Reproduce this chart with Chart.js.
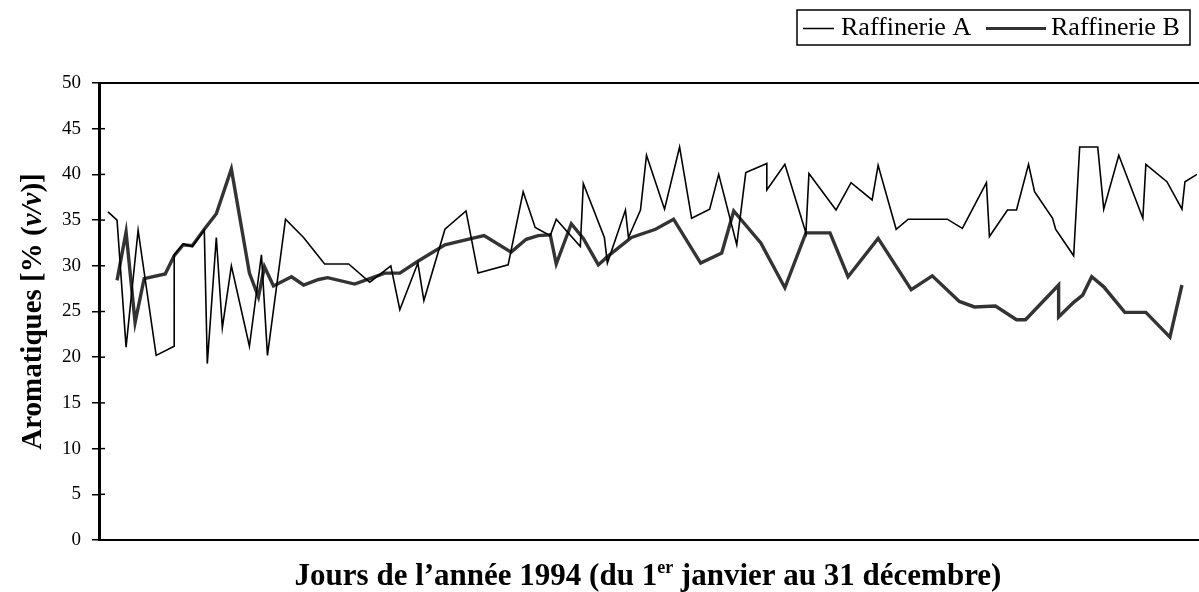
<!DOCTYPE html>
<html>
<head>
<meta charset="utf-8">
<script src="https://cdn.jsdelivr.net/npm/chart.js@4.4.1/dist/chart.umd.min.js"></script>
<style>
  html, body { margin: 0; padding: 0; background: #fff; }
  #wrap { width: 1199px; height: 592px; }
</style>
</head>
<body>
<div id="wrap"><canvas id="aroChart" width="1199" height="592"></canvas></div>
<script>
// jours de l'annee (1..365) et teneur en aromatiques [% v/v]
const joursA = [3,6,9,13,19,25,25,28,31,35,36,39,41,44,50,54,56,62,68,75,83,90,97,100,106,108,115,122,126,136,141,145,150,152,160,161,168,169,175,176,180,182,188,193,197,203,206,212,215,222,222,228,235,236,245,250,257,259,265,269,282,287,295,296,302,305,309,311,317,318,324,326,332,334,339,347,348,355,360,361,365];
const aromA = [35.9,35.0,21.1,33.9,20.2,21.2,31.2,32.4,32.1,33.9,19.3,33.1,23.2,30.0,21.2,31.2,20.2,35.1,33.1,30.2,30.2,28.2,30.0,25.2,30.3,26.2,34.0,36.0,29.2,30.1,38.1,34.2,33.3,35.1,32.1,39.0,33.1,30.3,36.1,33.1,36.1,42.1,36.2,43.0,35.2,36.2,40.0,32.3,40.2,41.2,38.3,41.1,33.6,40.1,36.1,39.1,37.2,41.0,34.0,35.1,35.1,34.1,39.1,33.2,36.1,36.1,41.1,38.1,35.2,34.0,31.1,43.0,43.0,36.2,42.1,35.2,41.1,39.2,36.2,39.2,40.0];

const joursB = [6,9,12,15,22,25,28,31,35,39,44,50,53,55,58,64,68,73,76,85,90,95,100,106,115,124,128,137,142,146,150,152,157,161,166,169,177,185,191,200,207,211,220,228,235,243,249,259,270,277,286,291,298,305,308,319,319,324,327,330,334,341,348,356,360];
const aromB = [28.4,33.7,23.8,28.6,29.1,31.1,32.3,32.2,34.0,35.7,40.6,29.2,26.6,29.9,27.8,28.8,27.9,28.5,28.7,28.0,28.6,29.2,29.2,30.5,32.3,33.0,33.3,31.5,32.9,33.3,33.4,30.2,34.6,33.0,30.1,31.0,33.1,34.0,35.1,30.3,31.4,36.0,32.5,27.6,33.6,33.6,28.8,33.0,27.4,28.9,26.1,25.5,25.6,24.1,24.1,27.9,24.4,26.0,26.8,28.8,27.7,24.9,24.9,22.2,27.9];

const labels = ["Raffinerie A", "Raffinerie B"];
const yMin = 0, yMax = 50, yPas = 5;

const SERIF = "'Liberation Serif', 'Times New Roman', serif";

// ecrit une suite de morceaux de texte (polices differentes) centree sur cx
function ecrireMorceaux(ctx, morceaux, cx, y) {
    let total = 0;
    morceaux.forEach(m => { ctx.font = m.font; total += ctx.measureText(m.t).width; });
    let x = cx - total / 2;
    morceaux.forEach(m => {
        ctx.font = m.font;
        ctx.fillText(m.t, x, y + (m.dy || 0));
        x += ctx.measureText(m.t).width;
    });
}

const decor = {
    id: 'decor',
    afterDraw(chart) {
        const ctx = chart.ctx;
        const a = chart.chartArea;
        const ys = chart.scales.y;
        ctx.save();
        ctx.strokeStyle = '#000';

        // cadre haut et bas
        ctx.lineWidth = 2;
        ctx.beginPath();
        ctx.moveTo(a.left, a.top); ctx.lineTo(a.right + 2, a.top);
        ctx.moveTo(a.left - 1, a.bottom); ctx.lineTo(a.right + 2, a.bottom);
        ctx.stroke();

        // petits traits a l'interieur
        ctx.lineWidth = 1.5;
        ys.ticks.forEach(t => {
            const y = ys.getPixelForValue(t.value);
            ctx.beginPath();
            ctx.moveTo(a.left, y); ctx.lineTo(a.left + 6, y);
            ctx.stroke();
        });

        // legende
        const lx = 797, ly = 10, lw = 393, lh = 35;
        ctx.lineWidth = 1.5;
        ctx.strokeRect(lx, ly, lw, lh);
        const my = ly + lh / 2 + 1;
        ctx.lineWidth = 1.5;
        ctx.beginPath(); ctx.moveTo(803, my); ctx.lineTo(834, my); ctx.stroke();
        ctx.strokeStyle = chart.data.datasets[1].borderColor;
        ctx.lineWidth = 3;
        ctx.beginPath(); ctx.moveTo(986, my); ctx.lineTo(1046, my); ctx.stroke();
        ctx.fillStyle = '#000';
        ctx.font = "26px " + SERIF;
        ctx.textBaseline = 'middle';
        ctx.textAlign = 'left';
        ctx.fillText(labels[0], 841, my);
        ctx.fillText(labels[1], 1051, my);

        // titre axe x avec exposant
        ctx.textBaseline = 'alphabetic';
        const gras = "bold 31px " + SERIF;
        ecrireMorceaux(ctx, [
            { t: "Jours de l\u2019ann\u00e9e 1994 (du 1", font: gras },
            { t: "er", font: "bold 18px " + SERIF, dy: -12 },
            { t: " janvier au 31 d\u00e9cembre)", font: gras }
        ], (a.left + a.right) / 2, 585);

        // titre axe y, v/v en italique
        const grasY = "bold 29px " + SERIF;
        ctx.translate(41, (a.top + a.bottom) / 2);
        ctx.rotate(-Math.PI / 2);
        ecrireMorceaux(ctx, [
            { t: "Aromatiques [% (", font: grasY },
            { t: "v/v", font: "bold italic 29px " + SERIF },
            { t: ")]", font: grasY }
        ], 0, 0);
        ctx.restore();
    }
};

const ctx = document.getElementById('aroChart').getContext('2d');

const chart = new Chart(ctx, {
    type: 'line',
    data: {
        datasets: [
            {
                label: labels[0],
                data: joursA.map((j, i) => ({ x: j, y: aromA[i] })),
                borderColor: '#000',
                borderWidth: 1.6,
                pointRadius: 0,
                tension: 0,
                fill: false
            },
            {
                label: labels[1],
                data: joursB.map((j, i) => ({ x: j, y: aromB[i] })),
                borderColor: '#333',
                borderWidth: 3.4,
                pointRadius: 0,
                tension: 0,
                fill: false
            }
        ]
    },
    options: {
        responsive: false,
        animation: false,
        devicePixelRatio: 1,
        layout: { padding: { top: 83, bottom: 52, right: 2, left: 0 } },
        plugins: {
            legend: { display: false },
            tooltip: { enabled: false }
        },
        scales: {
            x: {
                type: 'linear',
                min: 0,
                max: 365,
                display: false
            },
            y: {
                min: yMin,
                max: yMax,
                afterFit(scale) { scale.width = 99; },
                ticks: {
                    stepSize: yPas,
                    color: '#000',
                    padding: 11,
                    font: { family: SERIF, size: 19 }
                },
                grid: {
                    drawOnChartArea: false,
                    drawTicks: true,
                    tickLength: 7,
                    color: '#000',
                    lineWidth: 1.5
                },
                border: { display: true, color: '#000', width: 3 }
            }
        }
    },
    plugins: [decor]
});
</script>
</body>
</html>
